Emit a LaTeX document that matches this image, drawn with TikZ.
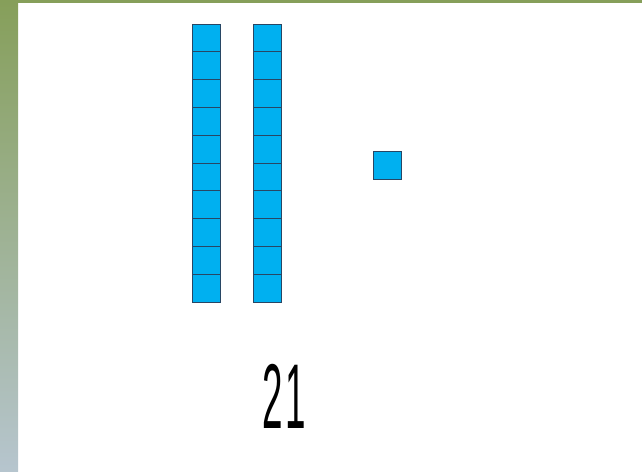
\documentclass[tikz,border=0pt]{standalone}
\usepackage{fontspec}
\setmainfont{Liberation Sans}
\usepackage{xcolor}
\definecolor{cubeblue}{RGB}{0,176,240}
\definecolor{cubeedge}{RGB}{40,70,100}
\definecolor{stripgreen}{RGB}{134,159,90}
\definecolor{stripgrey}{RGB}{182,197,206}

\begin{document}
\begin{tikzpicture}[x=1pt,y=-1pt]
\tikzset{unit/.style={fill=cubeblue,draw=cubeedge,line width=0.9pt}}
\useasboundingbox (0,0) rectangle (642,471);
\fill[white] (0,0) rectangle (642,471);
% side and top strips
\shade[top color=stripgreen,bottom color=stripgrey] (0,0) rectangle (18,471);
\fill[stripgreen] (0,0) rectangle (642,3);
% two rods of ten
\foreach \x in {192,253}
  \foreach \i in {0,...,9}
    \draw[unit] (\x,24+27.8*\i) rectangle ++(28.5,27.8);
% one unit
\draw[unit] (373,151) rectangle ++(28,28);
\node[font=\fontsize{92}{92}\selectfont,xscale=0.4,inner sep=0pt] (num) at (284,396) {2\kern6pt1};
\end{tikzpicture}
\end{document}
